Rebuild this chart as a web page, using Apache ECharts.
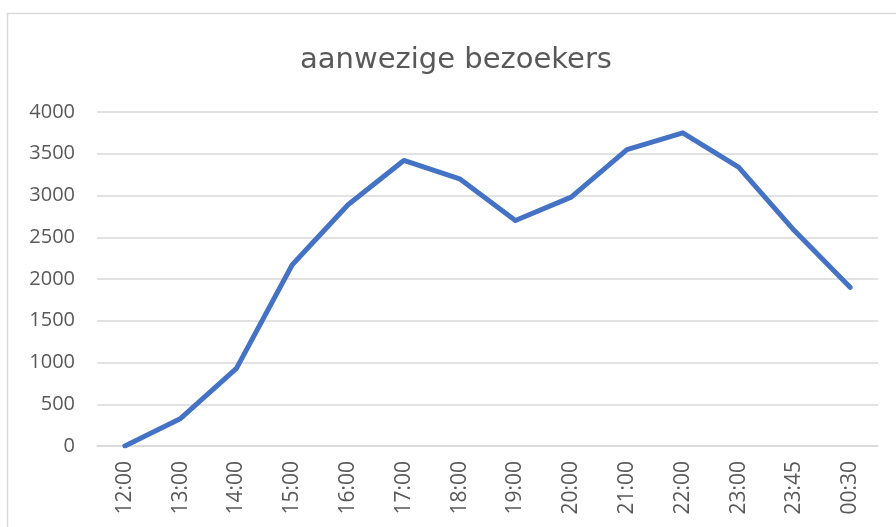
<!DOCTYPE html>
<html>
<head>
<meta charset="utf-8">
<script src="https://cdn.jsdelivr.net/npm/echarts@6/dist/echarts.min.js"></script>
<style>
  html, body { margin: 0; padding: 0; background: #fff; }
  #echart { width: 896px; height: 527px; }
</style>
</head>
<body>
<div id="echart"></div>
<script>
// tijdstippen en aantallen bezoekers
var categories = ['12:00', '13:00', '14:00', '15:00', '16:00', '17:00', '18:00',
                  '19:00', '20:00', '21:00', '22:00', '23:00', '23:45', '00:30'];
var visitors = [0, 330, 930, 2170, 2890, 3420, 3200, 2700, 2980, 3550, 3750, 3340, 2580, 1900];

var myChart = echarts.init(document.getElementById('echart'));

var option = {
    animation: false,
    title: {
        text: 'aanwezige bezoekers',
        left: 295,
        top: 41,
        textStyle: {
            color: '#595959',
            fontFamily: 'DejaVu Sans',
            fontWeight: 'normal',
            fontSize: 29
        }
    },
    // kader rond de grafiek
    graphic: [{
        type: 'rect',
        shape: { x: 7.5, y: 13.5, width: 900, height: 530 },
        style: { fill: 'none', stroke: '#d9d9d9', lineWidth: 1.5 },
        silent: true
    }],
    grid: {
        left: 97,
        right: 18,
        top: 112,
        bottom: 81
    },
    xAxis: {
        type: 'category',
        data: categories,
        boundaryGap: true,
        axisLine: { show: true, lineStyle: { color: '#d9d9d9', width: 1.5 } },
        axisTick: { show: false },
        axisLabel: {
            rotate: 90,
            color: '#595959',
            fontFamily: 'Open Sans',
            fontSize: 21,
            margin: 15,
            interval: 0
        }
    },
    yAxis: {
        type: 'value',
        min: 0,
        max: 4000,
        interval: 500,
        axisLine: { show: false },
        axisTick: { show: false },
        splitLine: { lineStyle: { color: '#d9d9d9', width: 1.5 } },
        axisLabel: {
            color: '#595959',
            fontFamily: 'Open Sans',
            fontSize: 20,
            margin: 22,
            formatter: function (v) { return String(v); }
        }
    },
    series: [{
        name: 'aanwezige bezoekers',
        type: 'line',
        data: visitors,
        symbol: 'none',
        lineStyle: { color: '#4472c4', width: 5, cap: 'round', join: 'round' }
    }]
};

myChart.setOption(option);
</script>
</body>
</html>
